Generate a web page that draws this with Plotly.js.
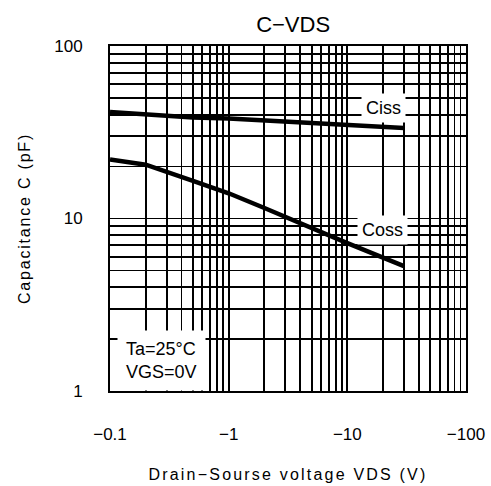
<!DOCTYPE html>
<html><head><meta charset="utf-8">
<script src="https://cdn.plot.ly/plotly-3.0.1.min.js"></script>
<style>
html,body{margin:0;padding:0;background:#fff}
.g-xtitle text{letter-spacing:2.2px}
.g-ytitle text{letter-spacing:1.8px}
</style>
</head><body>
<div id="chart" style="width:491px;height:486px"></div>
<script>
// |VDS| in volts (drawn with negative labels)
const vds = [0.1, 0.2, 0.5, 1, 2, 5, 10, 30];
const ciss = [41.5, 40, 38.5, 38, 37, 35.5, 35, 33.5];
const coss = [22, 20.5, 16.5, 14, 11.5, 8.8, 7.2, 5.3];
const xTickVals = [0.1, 1, 10, 100];
const xTickText = ["\u22120.1", "\u22121", "\u221210", "\u2212100"];
const yTickVals = [1, 10, 100];
const yTickText = ["1", "10", "100"];

const FONT = 'Liberation Sans, Arial, sans-serif';
const lineStyle = {color: 'black', width: 4.5};
const traces = [
  {x: vds, y: ciss, mode: 'lines', line: lineStyle, name: 'Ciss', hoverinfo: 'none'},
  {x: vds, y: coss, mode: 'lines', line: lineStyle, name: 'Coss', hoverinfo: 'none'}
];
const tickFont = {family: FONT, size: 17, color: 'black'};
const gridW = 1.8;
const layout = {
  width: 491, height: 486,
  margin: {l: 110, r: 25, t: 46, b: 95},
  paper_bgcolor: 'white', plot_bgcolor: 'white',
  showlegend: false,
  title: {text: 'C\u2212VDS', font: {family: FONT, size: 22, color: 'black'}, x: 0.597, xanchor: 'center', y: 0.949, yanchor: 'middle'},
  xaxis: {
    type: 'log', range: [-1, 2],
    tickvals: xTickVals, ticktext: xTickText, tickfont: tickFont,
    ticks: '', ticklabelstandoff: 27,
    showgrid: true, gridcolor: 'black', gridwidth: gridW,
    minor: {dtick: 'D1', showgrid: true, gridcolor: 'black', gridwidth: gridW, ticks: ''},
    showline: true, linecolor: 'black', linewidth: 2, mirror: true,
    zeroline: false,
    title: {text: 'Drain\u2212Sourse voltage VDS (V)', font: {family: FONT, size: 16, color: 'black'}, standoff: 25}
  },
  yaxis: {
    type: 'log', range: [0, 2],
    tickvals: yTickVals, ticktext: yTickText, tickfont: tickFont,
    ticks: '', ticklabelstandoff: 22,
    showgrid: true, gridcolor: 'black', gridwidth: gridW,
    minor: {dtick: 'D1', showgrid: true, gridcolor: 'black', gridwidth: gridW, ticks: ''},
    showline: true, linecolor: 'black', linewidth: 2, mirror: true,
    zeroline: false,
    title: {text: 'Capacitance C (pF)', font: {family: FONT, size: 16, color: 'black'}, standoff: 20}
  },
  annotations: [
    {x: Math.log10(20.3), y: Math.log10(44), xref: 'x', yref: 'y', text: 'Ciss', showarrow: false, bgcolor: 'white', font: {family: FONT, size: 18, color: 'black'}, borderpad: 4},
    {x: Math.log10(19.6), y: Math.log10(8.57), xref: 'x', yref: 'y', text: 'Coss', showarrow: false, bgcolor: 'white', font: {family: FONT, size: 18, color: 'black'}, borderpad: 4},
    {x: Math.log10(0.269), y: Math.log10(1.5), xref: 'x', yref: 'y', text: 'Ta=25\u00B0C<br>VGS=0V', showarrow: false, bgcolor: 'white', align: 'left', font: {family: FONT, size: 18, color: 'black'}, borderpad: 8}
  ]
};
Plotly.newPlot('chart', traces, layout, {staticPlot: true, displayModeBar: false});
</script>
</body></html>
